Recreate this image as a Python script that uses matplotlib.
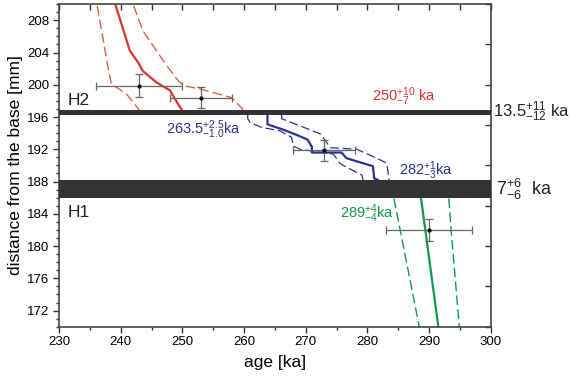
import matplotlib
matplotlib.use("Agg")
import matplotlib.pyplot as plt
from matplotlib.ticker import MultipleLocator

plt.rcParams['font.family'] = ['Liberation Sans', 'DejaVu Sans']
plt.rcParams['mathtext.default'] = 'regular'

# Red (H2 top) age model
red_age = [239.2, 241.5, 242.8, 243.6, 245.8, 248.0, 248.8, 249.9]
red_mm = [209.8, 204.2, 202.8, 201.7, 200.3, 199.3, 198.25, 196.9]
red_lo_age = [236.2, 238.1, 238.5, 240.9, 243.0]
red_lo_mm = [209.8, 201.5, 200.1, 198.9, 196.9]
red_hi_age = [242.1, 243.6, 246.9, 249.1, 250.1, 252.8, 258.0, 259.9]
red_hi_mm = [209.8, 206.7, 203.0, 200.7, 199.9, 199.5, 198.4, 196.9]

# Blue (between hiatuses)
blue_age = [263.8, 263.8, 266.5, 268.8, 270.3, 271.0, 271.0, 275.8, 276.6, 280.9, 281.1, 281.7]
blue_mm = [196.3, 195.1, 194.4, 193.7, 193.2, 192.3, 191.6, 191.6, 190.9, 189.9, 188.4, 188.2]
blue_lo_age = [260.6, 260.6, 261.0, 262.9, 265.8, 267.7, 268.0, 269.1, 274.5, 275.6, 279.1, 279.3]
blue_lo_mm = [196.3, 195.8, 195.3, 194.7, 194.3, 193.5, 192.4, 192.0, 191.4, 190.2, 188.8, 188.2]
blue_hi_age = [266.1, 266.1, 269.1, 272.4, 274.0, 278.3, 281.5, 283.1, 283.4, 283.5]
blue_hi_mm = [196.3, 195.8, 194.9, 193.9, 192.2, 192.0, 190.9, 190.3, 188.9, 188.2]

# Green (below H1)
green_age = [288.7, 291.5]
green_mm = [185.9, 170.0]
green_lo_age = [284.3, 285.8, 288.4]
green_lo_mm = [185.9, 180.1, 170.0]
green_hi_age = [293.2, 293.6, 294.9]
green_hi_mm = [185.9, 181.7, 170.0]

# Dated samples (age, mm, xerr, yerr)
samp_age = [243.0, 253.0, 273.0, 290.0]
samp_mm = [199.9, 198.4, 191.9, 182.0]
samp_xerr = [7.0, 5.0, 5.0, 7.0]
samp_yerr = [1.4, 1.3, 1.3, 1.4]

# Hiatus bands (mm)
h2_band = (196.3, 196.9)
h1_band = (185.9, 188.2)

RED = '#d7352a'
RED_L = '#e0604a'
BLUE = '#2e3192'
GREEN = '#10994a'

fig = plt.figure(figsize=(5.70, 3.79), dpi=100)
ax = fig.add_axes([0.1035, 0.138, 0.7575, 0.851])

ax.axhspan(*h2_band, color='#333333', zorder=3, lw=0)
ax.axhspan(*h1_band, color='#333333', zorder=3, lw=0)

ax.plot(red_age, red_mm, color=RED, lw=1.6, zorder=2)
ax.plot(red_lo_age, red_lo_mm, color=RED_L, lw=1.0, ls=(0, (7, 3)), zorder=2)
ax.plot(red_hi_age, red_hi_mm, color=RED_L, lw=1.0, ls=(0, (7, 3)), zorder=2)

ax.plot(blue_age, blue_mm, color=BLUE, lw=1.6, zorder=2)
ax.plot(blue_lo_age, blue_lo_mm, color=BLUE, lw=0.9, ls=(0, (7, 3)), zorder=2)
ax.plot(blue_hi_age, blue_hi_mm, color=BLUE, lw=0.9, ls=(0, (7, 3)), zorder=2)

ax.plot(green_age, green_mm, color=GREEN, lw=1.6, zorder=2)
ax.plot(green_lo_age, green_lo_mm, color=GREEN, lw=1.0, ls=(0, (7, 3)), zorder=2)
ax.plot(green_hi_age, green_hi_mm, color=GREEN, lw=1.0, ls=(0, (7, 3)), zorder=2)

ax.errorbar(samp_age, samp_mm, xerr=samp_xerr, yerr=samp_yerr, fmt='o', ms=2,
            color='black', ecolor='#666666', elinewidth=0.9, capsize=3,
            capthick=0.9, zorder=4)

ax.set_xlim(230, 300)
ax.set_ylim(170, 210)
ax.xaxis.set_major_locator(MultipleLocator(10))
ax.xaxis.set_minor_locator(MultipleLocator(5))
ax.yaxis.set_major_locator(MultipleLocator(4))
ax.yaxis.set_minor_locator(MultipleLocator(1))
ax.tick_params(axis='both', which='major', direction='out', length=4, width=1,
               labelsize=9.5, color='#333333', pad=3)
ax.tick_params(axis='both', which='minor', direction='out', length=2.5, width=1,
               color='#333333')
for s in ax.spines.values():
    s.set_color('#444444')
    s.set_linewidth(1.2)

# top ticks (inward, every 5 ka)
axt = ax.secondary_xaxis('top')
axt.xaxis.set_major_locator(MultipleLocator(5))
axt.tick_params(direction='in', length=4, width=1, labeltop=False, color='#333333')
axt.spines['top'].set_visible(False)
# right ticks (inward, every 5 mm)
axr = ax.secondary_yaxis('right')
axr.yaxis.set_major_locator(MultipleLocator(5))
axr.tick_params(direction='in', length=4, width=1, labelright=False, color='#333333')
axr.spines['right'].set_visible(False)

ax.set_xlabel('age [ka]', fontsize=12.5, labelpad=5)
ax.set_ylabel('distance from the base [mm]', fontsize=12.5, labelpad=3)

ax.text(231.4, 198.1, 'H2', fontsize=12.5, va='center', ha='left', color='#222222', zorder=5)
ax.text(231.4, 184.2, 'H1', fontsize=12.5, va='center', ha='left', color='#222222', zorder=5)

ax.text(280.7, 198.5, r'$250^{+10}_{-7}$ ka', fontsize=10.5, color=RED, va='center', ha='left')
ax.text(247.3, 194.4, r'$263.5^{+2.5}_{-1.0}$ka', fontsize=10.5, color=BLUE, va='center', ha='left')
ax.text(285.2, 189.3, r'$282^{+1}_{-3}$ka', fontsize=10.5, color=BLUE, va='center', ha='left')
ax.text(275.5, 184.0, r'$289^{+4}_{-4}$ka', fontsize=10.5, color=GREEN, va='center', ha='left')

ax.text(300.3, 196.6, r'$13.5^{+11}_{-12}$ ka', fontsize=12, color='#222222',
        va='center', ha='left', clip_on=False)
ax.text(300.8, 187.0, r'$7^{+6}_{-6}$  ka', fontsize=13, color='#222222',
        va='center', ha='left', clip_on=False)

fig.savefig('out.png', dpi=100)
